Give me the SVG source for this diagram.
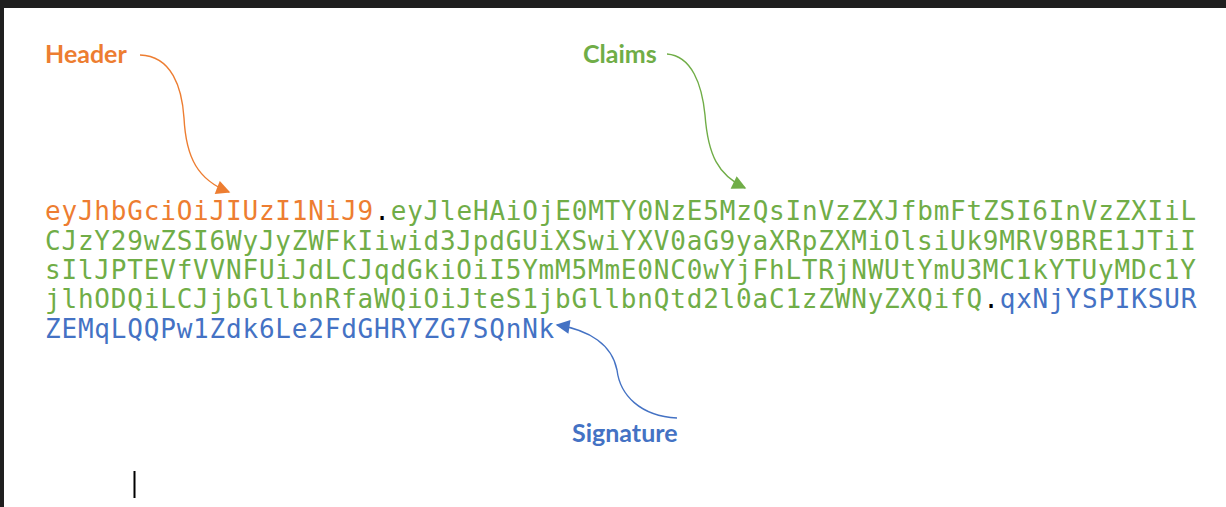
<svg xmlns="http://www.w3.org/2000/svg" width="1226" height="507" viewBox="0 0 1226 507">
<style>
.code{font-family:"DejaVu Sans Mono","Liberation Mono",monospace;font-size:26px;letter-spacing:0.8px}
.o{fill:#ED7D31}.g{fill:#70AD47}.b{fill:#4472C4}.k{fill:#000}
.lbl{font-family:Lato,"Open Sans",sans-serif;font-weight:bold;font-size:25px}
.arr{fill:none;stroke-width:1.4}
</style>
<defs>
<marker id="mo" viewBox="0 0 10 10" refX="9" refY="5" markerWidth="15" markerHeight="14" markerUnits="userSpaceOnUse" orient="auto"><path d="M0,0 L10,5 L0,10 Z" fill="#ED7D31"/></marker>
<marker id="mg" viewBox="0 0 10 10" refX="9" refY="5" markerWidth="15" markerHeight="14" markerUnits="userSpaceOnUse" orient="auto"><path d="M0,0 L10,5 L0,10 Z" fill="#70AD47"/></marker>
<marker id="mb" viewBox="0 0 10 10" refX="9" refY="5" markerWidth="15" markerHeight="14" markerUnits="userSpaceOnUse" orient="auto"><path d="M0,0 L10,5 L0,10 Z" fill="#4472C4"/></marker>
</defs>
<rect x="0" y="0" width="1226" height="507" fill="#fff"/>
<rect x="0" y="0" width="1226" height="8" fill="#1f1f1f"/>
<rect x="0" y="0" width="4" height="507" fill="#1f1f1f"/>
<g id="header-label"><text class="lbl o" x="45" y="63">Header</text></g>
<g id="claims-label"><text class="lbl g" x="583" y="63">Claims</text></g>
<g id="signature-label"><text class="lbl b" x="572" y="442">Signature</text></g>
<g id="token">
<text class="code" y="220"><tspan class="o" x="45">eyJhbGciOiJIUzI1NiJ9</tspan><tspan class="k" x="374.2">.</tspan><tspan class="g" x="390.7">eyJleHAiOjE0MTY0NzE5MzQsInVzZXJfbmFtZSI6InVzZXIiL</tspan></text>
<text class="code g" x="45" y="250">CJzY29wZSI6WyJyZWFkIiwid3JpdGUiXSwiYXV0aG9yaXRpZXMiOlsiUk9MRV9BRE1JTiI</text>
<text class="code g" x="45" y="279">sIlJPTEVfVVNFUiJdLCJqdGkiOiI5YmM5MmE0NC0wYjFhLTRjNWUtYmU3MC1kYTUyMDc1Y</text>
<text class="code" y="308"><tspan class="g" x="45">jlhODQiLCJjbGllbnRfaWQiOiJteS1jbGllbnQtd2l0aC1zZWNyZXQifQ</tspan><tspan class="k" x="983.2">.</tspan><tspan class="b" x="999.7">qxNjYSPIKSUR</tspan></text>
<text class="code b" x="45" y="338">ZEMqLQQPw1Zdk6Le2FdGHRYZG7SQnNk</text>
</g>
<g id="connectors">
<path class="arr" stroke="#ED7D31" d="M140,55 C172,56 182,88 184,118 C186,158 198,180 229,192" marker-end="url(#mo)"/>
<path class="arr" stroke="#70AD47" d="M667,54 C692,56 702,85 705,115 C708,155 718,175 745,188" marker-end="url(#mg)"/>
<path class="arr" stroke="#4472C4" d="M677,418 C640,416 620,395 617,370 C612,345 590,330 557,325" marker-end="url(#mb)"/>
</g>
<rect x="133.5" y="471" width="2" height="27" fill="#000"/>
</svg>
